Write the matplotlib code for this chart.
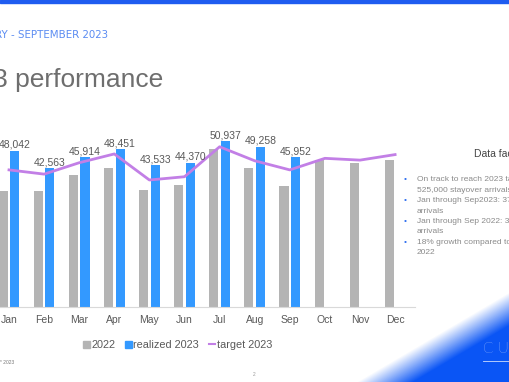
import numpy as np
import matplotlib.pyplot as plt
from matplotlib.patches import Patch, Rectangle
from matplotlib.lines import Line2D
from matplotlib.colors import to_rgb

plt.rcParams["font.family"] = ["Liberation Sans", "DejaVu Sans"]

months = ["Jan", "Feb", "Mar", "Apr", "May", "Jun",
          "Jul", "Aug", "Sep", "Oct", "Nov", "Dec"]
arrivals_2022 = [35600, 35500, 40600, 42800, 35900, 37500,
                 48400, 42800, 37200, 45100, 44200, 45100]
realized_2023 = [48042, 42563, 45914, 48451, 43533, 44370,
                 50937, 49258, 45952]
target_2023 = [42100, 40800, 44300, 47000, 39000, 40000,
               49200, 44900, 42100, 45650, 45100, 46800]
legend_labels = ["2022", "realized 2023", "target 2023"]

title = "2023 performance"
subtitle = "JANUARY - SEPTEMBER 2023"
facts_title = "Data facts"
facts = [
    ("On track to reach 2023 target of", "525,000 stayover arrivals"),
    ("Jan through Sep2023: 375,000 stayover", "arrivals"),
    ("Jan through Sep 2022: 318,000 stayover", "arrivals"),
    ("18% growth compared to same period", "2022"),
]

W, H = 510, 382
fig = plt.figure(figsize=(W / 100, H / 100), dpi=100)

# blue swoosh in the bottom-right corner
bg = fig.add_axes([0, 0, 1, 1], zorder=-1)
bg.axis("off")
xx, yy = np.meshgrid(np.arange(W) + 0.5, np.arange(H) + 0.5)
s = xx - 385 - 1.7 * (H - yy)
rgba = np.zeros((H, W, 4))
rgba[..., :3] = to_rgb("#0a55f5")
rgba[..., 3] = np.clip((s + 28) / 56, 0, 1)
bg.imshow(rgba, extent=[0, W, H, 0], aspect="auto", interpolation="bilinear")
bg.set_xlim(0, W)
bg.set_ylim(H, 0)

# chart
px = 35.1
ax = fig.add_axes([0, (H - 307) / H, 415 / W, (307 - 111.6) / H])
ax.set_facecolor("none")
x = np.arange(len(months))
ax.bar(x - 0.165, arrivals_2022, 0.26, color="#b4b4b4")
ax.bar(x[:len(realized_2023)] + 0.165, realized_2023, 0.26, color="#3399ff")
ax.plot(x, target_2023, color="#c27fe6", lw=2)
for xi, v in zip(x, realized_2023):
    ax.text(xi + 0.165, v + 300, f"{v:,}", ha="center", va="bottom",
            fontsize=7.5, color="#595959")

ax.set_xlim(-9 / px, (415 - 9) / px)
ax.set_ylim(0, 60000)
ax.set_xticks(x, months)
ax.set_yticks([])
for sp in ["top", "left", "right"]:
    ax.spines[sp].set_visible(False)
ax.spines["bottom"].set_color("#d9d9d9")
ax.spines["bottom"].set_linewidth(0.8)
ax.tick_params(axis="x", length=0, pad=6, labelsize=7.5, labelcolor="#595959")

handles = [Patch(color="#b4b4b4"), Patch(color="#3399ff"),
           Line2D([], [], color="#c27fe6", lw=1.5)]
fig.legend(handles, legend_labels, loc="center",
           bbox_to_anchor=(178 / W, 1 - 345 / H), ncol=3, frameon=False,
           fontsize=7.8, handlelength=0.6, handleheight=0.6,
           handletextpad=0.15, columnspacing=0.9, labelcolor="#595959")

# slide decorations
fig.add_artist(Rectangle((0, 1 - 2.5 / H), 1, 2.5 / H,
                         transform=fig.transFigure, color="#1f5cf0"))
fig.text(109 / W, 1 - 35 / H, subtitle, ha="right", va="center",
         fontsize=7.4, color="#5b8cf2", family="DejaVu Sans")
fig.text(163 / W, 1 - 80 / H, title, ha="right", va="center",
         fontsize=19, color="#6e6e6e")

fig.text(474 / W, 1 - 154 / H, facts_title, ha="left", va="center",
         fontsize=7.5, color="#444444")
for i, (l1, l2) in enumerate(facts):
    y0 = 180 + i * 20.7
    fig.text(405 / W, 1 - y0 / H, "•", ha="center", va="center",
             fontsize=6, color="#2f6ff0")
    fig.text(417 / W, 1 - y0 / H, l1, ha="left", va="center",
             fontsize=6, color="#8a8a8a")
    fig.text(417 / W, 1 - (y0 + 10.3) / H, l2, ha="left", va="center",
             fontsize=6, color="#8a8a8a")

fig.text(0, 1 - 362 / H, "* 2023", ha="left", va="center",
         fontsize=3.5, color="#777777")
fig.text(254 / W, 1 - 375 / H, "2", ha="center", va="center",
         fontsize=3.5, color="#999999")
fig.text(483 / W, 1 - 349 / H, "C U R A Ç A O", ha="left", va="center",
         fontsize=11, color="white", family="Lato", fontweight="light")
fig.add_artist(Line2D([483 / W, 1], [1 - 361 / H] * 2, color="white",
                      lw=0.6, alpha=0.8, transform=fig.transFigure))

fig.savefig("out.png", dpi=100)
